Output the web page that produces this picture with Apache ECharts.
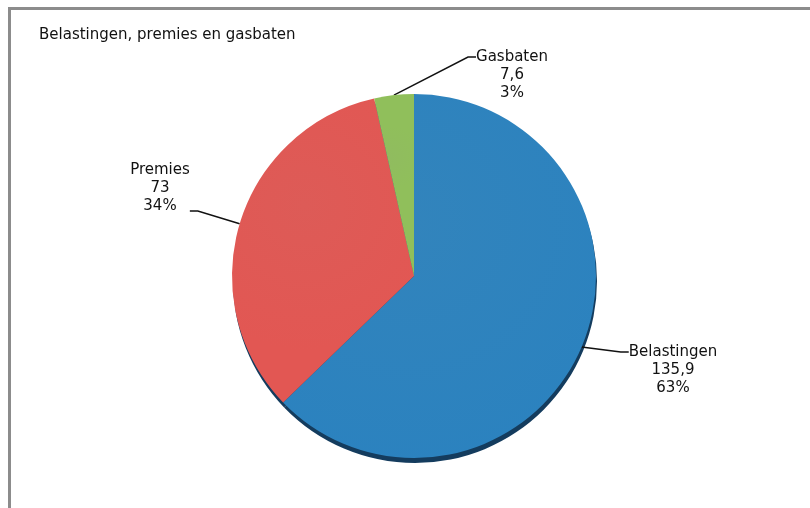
<!DOCTYPE html>
<html><head><meta charset="utf-8">
<script src="https://cdn.jsdelivr.net/npm/echarts@6/dist/echarts.min.js"></script>
<style>html,body{margin:0;padding:0;background:#fff}#c{width:810px;height:508px}</style>
</head><body><div id="c"></div>
<script>
const titleText = 'Belastingen, premies en gasbaten';
const categories = ['Belastingen', 'Premies', 'Gasbaten'];
const values = [135.9, 73, 7.6];
const valueLabels = ['135,9', '73', '7,6'];
const percentLabels = ['63%', '34%', '3%'];
const colors = ['#2a7fba', '#dc5551', '#8cba59'];

const chart = echarts.init(document.getElementById('c'), null, {renderer: 'canvas'});
const font = '"DejaVu Sans", Verdana, sans-serif';
// label placement: [centerX, textTop, paddingTop, paddingBottom]
const labelPlace = [[673, 343, 36, 0], [160, 161, 0, 46], [512, 48, 36, 0]];
chart.setOption({
  animation: false,
  backgroundColor: '#fff',
  title: {text: titleText, left: 34, top: 23, textStyle: {fontFamily: font, fontSize: 15, fontWeight: 'normal', color: '#111'}},
  graphic: [
    {type: 'rect', shape: {x: 8, y: 7, width: 810, height: 3}, style: {fill: '#8c8c8c'}},
    {type: 'rect', shape: {x: 8, y: 7, width: 3, height: 510}, style: {fill: '#8c8c8c'}}
  ],
  series: [{
    type: 'pie', silent: true, z: 1,
    center: [415, 281], radius: 182, startAngle: 90, clockwise: true,
    label: {show: false}, labelLine: {show: false},
    itemStyle: {color: '#143c5e', borderWidth: 0},
    data: categories.map((n, i) => ({name: n, value: values[i]}))
  }, {
    type: 'pie', z: 2,
    center: [414, 276],
    radius: 182,
    startAngle: 90,
    clockwise: true,
    data: categories.map((n, i) => ({
      name: n, value: values[i],
      label: {padding: [labelPlace[i][2], 0, labelPlace[i][3], 0]},
      itemStyle: {
        color: {type: 'radial', x: 0.4, y: 0.35, r: 0.8, colorStops: [
          {offset: 0, color: echarts.color.lift(colors[i], 0.04)},
          {offset: 1, color: echarts.color.lift(colors[i], -0.03)}]}
      }
    })),
    label: {
      show: true,
      formatter: p => p.name + '\n' + valueLabels[p.dataIndex] + '\n' + percentLabels[p.dataIndex],
      fontFamily: font, fontSize: 15, color: '#111', lineHeight: 18, align: 'center'
    },
    labelLine: {show: true, length: 20, length2: 8, lineStyle: {color: '#111', width: 1.5}},
    labelLayout: p => {
      const L = labelPlace[p.dataIndex];
      return {x: L[0], y: L[1] - L[2], align: 'center', verticalAlign: 'top'};
    }
  }]
});
</script></body></html>
